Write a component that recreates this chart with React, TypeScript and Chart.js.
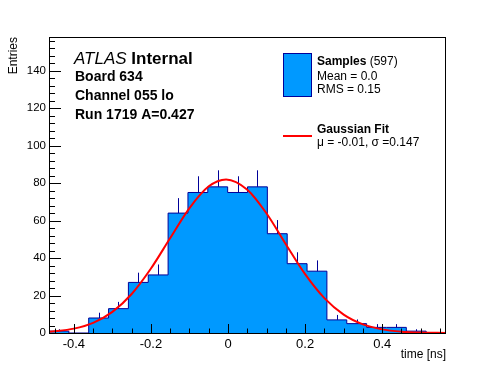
import React, { useEffect, useRef } from "react";
import { Chart, registerables } from "chart.js";

Chart.register(...registerables);

// ---- data ----
const X_MIN = -0.4645;
const X_MAX = 0.5655;
const Y_MIN = 0;
const Y_MAX = 158;
const BIN_COUNTS = [1, 0, 8, 13, 27, 31, 64, 75, 78, 75, 78, 53, 37, 33, 7, 5, 3, 3, 1, 0];
const X_TICKS = [-0.4, -0.2, 0, 0.2, 0.4];
const X_MINOR_TICKS = [-0.45, -0.35, -0.3, -0.25, -0.15, -0.1, -0.05, 0.05, 0.1, 0.15, 0.25, 0.3, 0.35, 0.45, 0.5, 0.55];
const Y_TICKS = [0, 20, 40, 60, 80, 100, 120, 140];
const Y_MINOR_TICKS = [4, 8, 12, 16, 24, 28, 32, 36, 44, 48, 52, 56, 64, 68, 72, 76, 84, 88, 92, 96, 104, 108, 112, 116, 124, 128, 132, 136, 144, 148, 152, 156];
// Gaussian fit curve
const FIT_X = [-0.4645, -0.4, -0.35, -0.3, -0.25, -0.2, -0.15, -0.1, -0.05, -0.005, 0.05, 0.1, 0.15, 0.2, 0.25, 0.3, 0.35, 0.4, 0.45, 0.5, 0.5655];
const FIT_Y = [0.66, 2.33, 5.42, 11.25, 20.8, 34.4, 50.7, 66.7, 78.3, 82, 76.5, 63.8, 47.4, 31.4, 18.6, 9.8, 4.6, 1.94, 0.73, 0.24, 0.05];

const LEFT_TEXT = ["Board 634", "Channel 055 lo", "Run 1719 A=0.427"];
const LEGEND_SAMPLES = ["Samples", " (597)", "Mean = 0.0", "RMS = 0.15"];
const LEGEND_FIT = ["Gaussian Fit", "\u03bc = -0.01, \u03c3 =0.147"];

const BIN_W = (X_MAX - X_MIN) / BIN_COUNTS.length;
const FILL = "#0099ff";
const EDGE = "#000099";
const FONT = "'Liberation Sans', Arial, Helvetica, sans-serif";

const rootPlugin = {
  id: "rootStyle",
  afterDatasetDraw(chart: any, args: any) {
    if (args.index !== 0) return;
    const { ctx, scales } = chart;
    const x = scales.x;
    const y = scales.y;
    ctx.save();
    ctx.strokeStyle = EDGE;
    ctx.lineWidth = 1;
    BIN_COUNTS.forEach((n, i) => {
      if (n <= 0) return;
      const c = X_MIN + (i + 0.5) * BIN_W;
      const px = Math.round(x.getPixelForValue(c)) + 0.5;
      ctx.beginPath();
      ctx.moveTo(px, y.getPixelForValue(n));
      ctx.lineTo(px, y.getPixelForValue(n + Math.sqrt(n)));
      ctx.stroke();
    });
    ctx.restore();
  },
  afterDraw(chart: any) {
    const { ctx, chartArea, scales } = chart;
    const x = scales.x;
    const y = scales.y;
    const { left, right, top, bottom } = chartArea;
    ctx.save();
    // frame
    ctx.strokeStyle = "#000";
    ctx.lineWidth = 1;
    ctx.strokeRect(left + 0.5, top + 0.5, right - left - 1, bottom - top);
    // x ticks (inward)
    const xMajor = 9, xMinor = 4.5, yMajor = 12, yMinor = 6;
    ctx.beginPath();
    X_TICKS.forEach((v) => {
      const px = Math.round(x.getPixelForValue(v)) + 0.5;
      ctx.moveTo(px, bottom);
      ctx.lineTo(px, bottom - xMajor);
    });
    X_MINOR_TICKS.forEach((v) => {
      const px = Math.round(x.getPixelForValue(v)) + 0.5;
      ctx.moveTo(px, bottom);
      ctx.lineTo(px, bottom - xMinor);
    });
    Y_TICKS.forEach((v) => {
      const py = Math.round(y.getPixelForValue(v)) + 0.5;
      ctx.moveTo(left, py);
      ctx.lineTo(left + yMajor, py);
    });
    Y_MINOR_TICKS.forEach((v) => {
      const py = Math.round(y.getPixelForValue(v)) + 0.5;
      ctx.moveTo(left, py);
      ctx.lineTo(left + yMinor, py);
    });
    ctx.stroke();

    ctx.fillStyle = "#000";
    // axis titles
    ctx.font = `12px ${FONT}`;
    ctx.textAlign = "right";
    ctx.textBaseline = "alphabetic";
    ctx.fillText("time [ns]", right, 358);
    ctx.save();
    ctx.translate(17, top);
    ctx.rotate(-Math.PI / 2);
    ctx.textAlign = "right";
    ctx.fillText("Entries", 0, 0);
    ctx.restore();

    // ATLAS label
    ctx.textAlign = "left";
    ctx.font = `italic 17px ${FONT}`;
    ctx.fillText("ATLAS", 74, 64);
    const w = ctx.measureText("ATLAS").width;
    ctx.font = `bold 17px ${FONT}`;
    ctx.fillText(" Internal", 74 + w, 64);
    ctx.font = `bold 14px ${FONT}`;
    const ys = [81, 100, 119];
    LEFT_TEXT.forEach((t, i) => ctx.fillText(t, 75, ys[i]));

    // legend: samples
    ctx.fillStyle = FILL;
    ctx.fillRect(283, 53, 29, 44);
    ctx.strokeStyle = EDGE;
    ctx.strokeRect(283.5, 53.5, 28, 43);
    ctx.fillStyle = "#000";
    ctx.font = `bold 12px ${FONT}`;
    ctx.fillText(LEGEND_SAMPLES[0], 317, 65);
    const ws = ctx.measureText(LEGEND_SAMPLES[0]).width;
    ctx.font = `12px ${FONT}`;
    ctx.fillText(LEGEND_SAMPLES[1], 317 + ws, 65);
    ctx.fillText(LEGEND_SAMPLES[2], 317, 80);
    ctx.fillText(LEGEND_SAMPLES[3], 317, 93);
    // legend: fit
    ctx.strokeStyle = "#ff0000";
    ctx.lineWidth = 2;
    ctx.beginPath();
    ctx.moveTo(283, 136);
    ctx.lineTo(312, 136);
    ctx.stroke();
    ctx.font = `bold 12px ${FONT}`;
    ctx.fillText(LEGEND_FIT[0], 317, 133);
    ctx.font = `12px ${FONT}`;
    ctx.fillText(LEGEND_FIT[1], 317, 146);
    ctx.restore();
  },
};

export default function App() {
  const canvasRef = useRef<HTMLCanvasElement | null>(null);

  useEffect(() => {
    const canvas = canvasRef.current;
    if (!canvas) return;
    const histPoints = BIN_COUNTS.map((n, i) => ({ x: X_MIN + i * BIN_W, y: n }));
    histPoints.push({ x: X_MAX, y: BIN_COUNTS[BIN_COUNTS.length - 1] });
    const fitPoints = FIT_X.map((xv, i) => ({ x: xv, y: FIT_Y[i] }));

    const chart = new Chart(canvas, {
      type: "line",
      data: {
        datasets: [
          {
            data: histPoints,
            stepped: "before",
            fill: "origin",
            backgroundColor: FILL,
            borderColor: EDGE,
            borderWidth: 1,
            pointRadius: 0,
            order: 2,
          } as any,
          {
            data: fitPoints,
            borderColor: "#ff0000",
            borderWidth: 2,
            pointRadius: 0,
            fill: false,
            cubicInterpolationMode: "monotone",
            order: 1,
          } as any,
        ],
      },
      options: {
        animation: false,
        responsive: false,
        devicePixelRatio: 1,
        layout: { padding: { left: 0, top: 37, right: 50, bottom: 0 } },
        plugins: { legend: { display: false }, tooltip: { enabled: false } },
        scales: {
          x: {
            type: "linear",
            min: X_MIN,
            max: X_MAX,
            grid: { display: false, drawTicks: false },
            border: { display: false },
            afterBuildTicks: (s: any) => {
              s.ticks = X_TICKS.map((v) => ({ value: v }));
            },
            afterFit: (s: any) => {
              s.height = 39;
            },
            ticks: {
              padding: 4,
              color: "#000",
              font: { family: FONT, size: 13 },
              maxRotation: 0,
              callback: (v: any) => `${Math.round(Number(v) * 10) / 10}`,
            },
          },
          y: {
            type: "linear",
            min: Y_MIN,
            max: Y_MAX,
            grid: { display: false, drawTicks: false },
            border: { display: false },
            afterBuildTicks: (s: any) => {
              s.ticks = Y_TICKS.map((v) => ({ value: v }));
            },
            afterFit: (s: any) => {
              s.width = 49;
            },
            ticks: {
              padding: 3,
              color: "#000",
              font: { family: FONT, size: 11.5 },
            },
          },
        },
      },
      plugins: [rootPlugin],
    });
    return () => chart.destroy();
  }, []);

  return (
    <div style={{ position: "fixed", left: 0, top: 0, width: 496, height: 372, background: "#fff" }}>
      <canvas ref={canvasRef} width={496} height={372} />
    </div>
  );
}
